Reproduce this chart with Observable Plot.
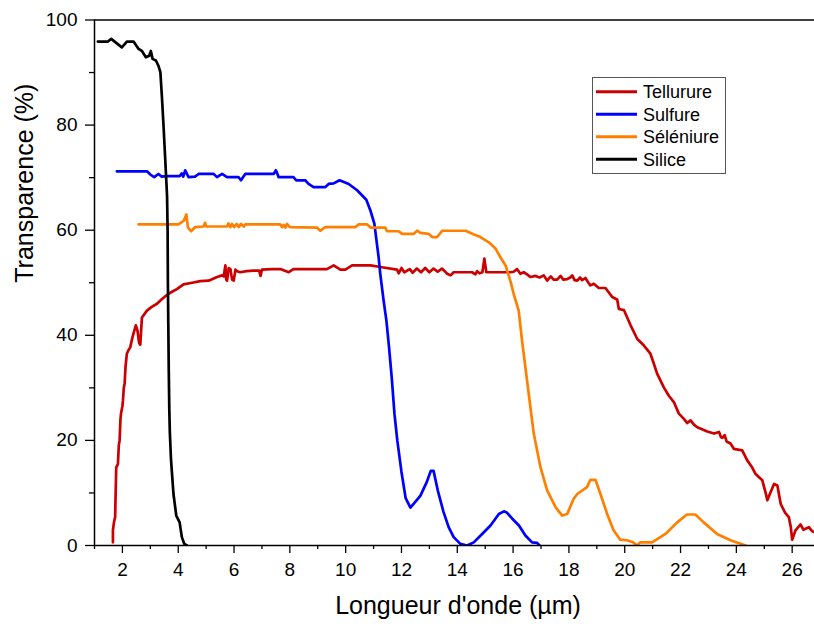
<!DOCTYPE html>
<html><head><meta charset="utf-8">
<script src="https://cdn.jsdelivr.net/npm/d3@7"></script>
<script src="https://cdn.jsdelivr.net/npm/@observablehq/plot@0.6"></script>
<style>body{margin:0;background:#fff} svg{display:block}</style>
</head><body><div id="chart"></div>
<script>
const seriesNames = ["Tellurure", "Sulfure", "Séléniure", "Silice"];
const seriesColors = ["#cc0000", "#0000ff", "#ff8000", "#000000"];
const xLabel = "Longueur d'onde (µm)";
const yLabel = "Transparence (%)";
const xTicks = [2, 4, 6, 8, 10, 12, 14, 16, 18, 20, 22, 24, 26];
const xMinor = [1, 3, 5, 7, 9, 11, 13, 15, 17, 19, 21, 23, 25];
const yTicks = [0, 20, 40, 60, 80, 100];
const yMinor = [10, 30, 50, 70, 90];

const tellurure = [[1.66,0.6],[1.66,2.9],[1.70,4.5],[1.74,5.4],[1.76,10.5],[1.78,14.9],[1.84,15.5],[1.87,19],[1.90,20.0],[1.93,24],[1.95,25.1],[2.00,26.5],[2.02,27.6],[2.05,30],[2.08,30.8],[2.11,33.9],[2.16,36.5],[2.22,37.2],[2.28,37.7],[2.36,39.6],[2.48,41.9],[2.54,40.9],[2.60,38.5],[2.64,38.2],[2.70,43.4],[2.88,44.7],[3.05,45.4],[3.24,46.0],[3.40,46.8],[3.53,47.4],[3.75,48.2],[3.95,48.8],[4.19,49.7],[4.50,50.0],[4.79,50.3],[5.09,50.4],[5.39,51.1],[5.57,51.4],[5.63,51.2],[5.69,53.3],[5.72,50.6],[5.75,50.4],[5.81,52.8],[5.87,52.6],[5.93,50.6],[5.99,50.4],[6.05,52.5],[6.11,52.2],[6.22,52.0],[6.45,52.2],[6.70,52.3],[6.90,52.3],[6.95,51.3],[7.00,52.5],[7.36,52.6],[7.66,52.6],[7.96,52.0],[8.13,52.6],[9.33,52.6],[9.57,53.3],[9.81,52.5],[9.99,52.5],[10.23,53.3],[10.89,53.3],[11.24,53.0],[11.84,52.5],[11.9,51.8],[12.0,52.8],[12.1,52.0],[12.3,52.6],[12.4,51.9],[12.55,52.7],[12.7,52.0],[12.85,52.8],[13.0,52.0],[13.15,52.7],[13.3,52.1],[13.45,52.7],[13.55,52.2],[13.64,51.7],[13.76,51.4],[13.87,52.0],[14.53,52.0],[14.65,51.6],[14.71,52.2],[14.80,51.8],[14.90,52.0],[14.97,54.6],[15.04,52.0],[15.90,52.0],[16.02,52.1],[16.14,52.6],[16.26,51.7],[16.38,52.0],[16.50,51.6],[16.62,51.1],[16.80,51.3],[16.95,51.0],[17.10,51.4],[17.22,50.4],[17.35,51.2],[17.45,50.6],[17.58,50.6],[17.70,51.3],[17.80,50.6],[17.94,50.7],[18.05,51.0],[18.12,51.4],[18.20,50.5],[18.30,50.4],[18.40,51.0],[18.47,50.5],[18.59,50.9],[18.70,50.0],[18.77,49.5],[18.89,49.8],[19.07,49.0],[19.31,49.0],[19.45,48.0],[19.55,47.3],[19.73,46.8],[19.79,45.0],[19.97,44.8],[20.21,41.9],[20.45,39.3],[20.68,38.1],[20.92,36.5],[21.05,34.5],[21.16,32.7],[21.40,30.1],[21.58,28.5],[21.76,27.3],[21.94,25.1],[22.12,24.1],[22.24,23.3],[22.36,23.8],[22.48,23.0],[22.60,22.5],[22.96,21.7],[23.20,21.3],[23.38,21.6],[23.45,20.6],[23.50,20.5],[23.58,21.0],[23.65,19.8],[23.79,19.4],[23.91,18.4],[24.21,18.1],[24.39,16.2],[24.55,15.0],[24.69,13.6],[24.93,12.4],[25.05,10.0],[25.11,8.6],[25.20,9.8],[25.35,11.7],[25.47,11.4],[25.59,7.9],[25.75,6.2],[25.88,5.4],[25.95,3.5],[26.00,1.1],[26.12,2.9],[26.30,4.0],[26.40,3.0],[26.48,3.2],[26.60,3.5],[26.70,2.8],[26.80,2.5]];

const sulfure = [[1.80,71.2],[2.88,71.2],[3.00,70.6],[3.14,70.1],[3.29,70.7],[3.40,70.2],[3.55,70.3],[4.05,70.3],[4.13,70.8],[4.18,70.2],[4.25,71.4],[4.37,70.1],[4.60,70.2],[4.73,70.7],[5.27,70.7],[5.39,70.1],[5.57,70.7],[5.75,70.1],[6.16,70.1],[6.25,69.5],[6.40,70.7],[7.42,70.7],[7.50,71.4],[7.60,70.1],[8.13,70.1],[8.23,69.5],[8.55,69.5],[8.67,68.8],[8.85,68.2],[9.27,68.2],[9.39,68.8],[9.57,68.9],[9.78,69.5],[10.11,68.8],[10.41,67.6],[10.74,65.8],[10.89,63.7],[11.03,61.2],[11.12,57.4],[11.18,54.9],[11.24,51.7],[11.36,46.6],[11.46,42.8],[11.55,38],[11.65,32],[11.75,25],[11.85,20],[12.0,14],[12.15,9],[12.32,7.2],[12.45,8],[12.68,9.5],[12.9,12],[13.05,14.2],[13.15,14.2],[13.3,10.5],[13.5,6.5],[13.69,3.5],[13.87,1.6],[14.11,0.3],[14.35,0],[14.59,0.6],[14.89,2.2],[15.19,3.8],[15.49,6.0],[15.67,6.5],[15.77,6.3],[15.97,5.1],[16.21,3.8],[16.44,1.9],[16.68,0.6],[16.86,0.5],[16.95,0]];

const seleniure = [[2.58,61.1],[4.01,61.1],[4.20,61.8],[4.29,63.0],[4.35,60.5],[4.46,59.8],[4.61,60.6],[4.91,60.7],[4.96,61.4],[5.01,60.7],[5.75,60.7],[5.80,61.3],[5.87,60.6],[5.93,61.2],[6.00,60.6],[6.10,61.2],[6.17,60.6],[6.25,61.2],[6.35,60.7],[6.40,61.1],[7.66,61.1],[7.72,60.6],[7.78,61.0],[7.84,60.5],[7.90,61.2],[8.00,60.6],[8.97,60.5],[9.09,59.9],[9.27,60.6],[10.35,60.6],[10.47,61.1],[10.77,61.1],[10.89,60.5],[11.42,60.5],[11.48,59.8],[11.90,59.8],[12.02,59.3],[12.44,59.3],[12.56,59.9],[12.68,59.5],[12.98,59.3],[13.10,58.7],[13.28,58.7],[13.46,59.9],[14.30,59.9],[14.60,59.2],[14.83,58.7],[15.13,57.7],[15.37,56.5],[15.55,54.8],[15.73,53.3],[15.90,50.4],[16.02,47.9],[16.20,44.7],[16.32,39.0],[16.50,31.4],[16.74,21.3],[16.98,14.9],[17.22,10.5],[17.52,7.3],[17.76,5.7],[17.94,6.0],[18.17,8.9],[18.30,9.8],[18.65,11.1],[18.77,12.5],[18.95,12.5],[19.13,9.8],[19.37,6.0],[19.60,2.9],[19.84,1.1],[20.08,1.0],[20.30,0.6],[20.44,0],[20.55,0.6],[20.68,0.6],[20.98,0.6],[21.46,2.2],[21.88,4.4],[22.23,5.9],[22.53,5.9],[22.83,4.4],[23.31,2.2],[23.79,1.0],[24.33,0]];

const silice = [[1.12,95.9],[1.48,95.9],[1.60,96.4],[1.98,94.8],[2.16,95.9],[2.40,95.9],[2.58,94.5],[2.70,94.1],[2.84,92.9],[2.96,93.2],[3.02,94.1],[3.08,92.6],[3.20,92.3],[3.29,91.3],[3.36,90.1],[3.42,85],[3.47,80.2],[3.52,75],[3.56,70.8],[3.60,66.5],[3.62,60],[3.63,50],[3.645,42],[3.66,33.9],[3.68,26],[3.70,21.5],[3.74,16.5],[3.78,13.5],[3.83,9.8],[3.93,5.7],[4.05,4.4],[4.13,1.6],[4.22,0.3],[4.31,0]];

const rows = [];
[tellurure, sulfure, seleniure, silice].forEach((arr, i) =>
  arr.forEach(([x, y]) => rows.push({serie: seriesNames[i], x, y})));

const font = "'Liberation Sans', Arial, sans-serif";
const plot = Plot.plot({
  width: 814, height: 626,
  marginLeft: 94, marginRight: 0, marginTop: 19.5, marginBottom: 81,
  style: {fontFamily: font, background: "white", color: "black", overflow: "visible"},
  x: {domain: [1, 26.8]},
  y: {domain: [0, 100]},
  color: {domain: seriesNames, range: seriesColors},
  marks: [
    Plot.line(rows, {x: "x", y: "y", z: "serie", stroke: "serie", strokeWidth: 2.7, clip: true}),
    Plot.ruleY([0], {strokeWidth: 1.5}),
    Plot.ruleY([100], {strokeWidth: 1.3}),
    Plot.ruleX([1], {strokeWidth: 1.5}),
    Plot.axisX(xMinor, {tickSize: 4, tickFormat: () => "", label: null, strokeWidth: 1.3}),
    Plot.axisX(xTicks, {tickSize: 8, tickPadding: 9, fontSize: 19, label: null, strokeWidth: 1.3}),
    Plot.axisY(yMinor, {tickSize: 5, tickFormat: () => "", label: null, strokeWidth: 1.3}),
    Plot.axisY(yTicks, {tickSize: 9, tickPadding: 8, fontSize: 19, label: null, strokeWidth: 1.3}),
    Plot.text([xLabel], {frameAnchor: "bottom", dx: 3.5, dy: 68, fontSize: 25, fill: "black"}),
    Plot.text([yLabel], {frameAnchor: "left", dx: -70, rotate: -90, fontSize: 25, fill: "black"})
  ]
});

// legend inside the plot area
const svg = d3.select(plot);
const lg = svg.append("g").attr("font-family", font).attr("font-size", 18).attr("text-anchor", "start");
lg.append("rect").attr("x", 592.5).attr("y", 77.5).attr("width", 133).attr("height", 96)
  .attr("fill", "white").attr("stroke", "#555").attr("stroke-width", 1);
seriesNames.forEach((name, i) => {
  const cy = 91.7 + i * 22.5;
  lg.append("line").attr("x1", 596).attr("x2", 637).attr("y1", cy).attr("y2", cy)
    .attr("stroke", seriesColors[i]).attr("stroke-width", 3);
  lg.append("text").attr("x", 643).attr("y", cy + 6.3).attr("fill", "black").text(name);
});

document.getElementById("chart").appendChild(plot);
</script>
</body></html>
